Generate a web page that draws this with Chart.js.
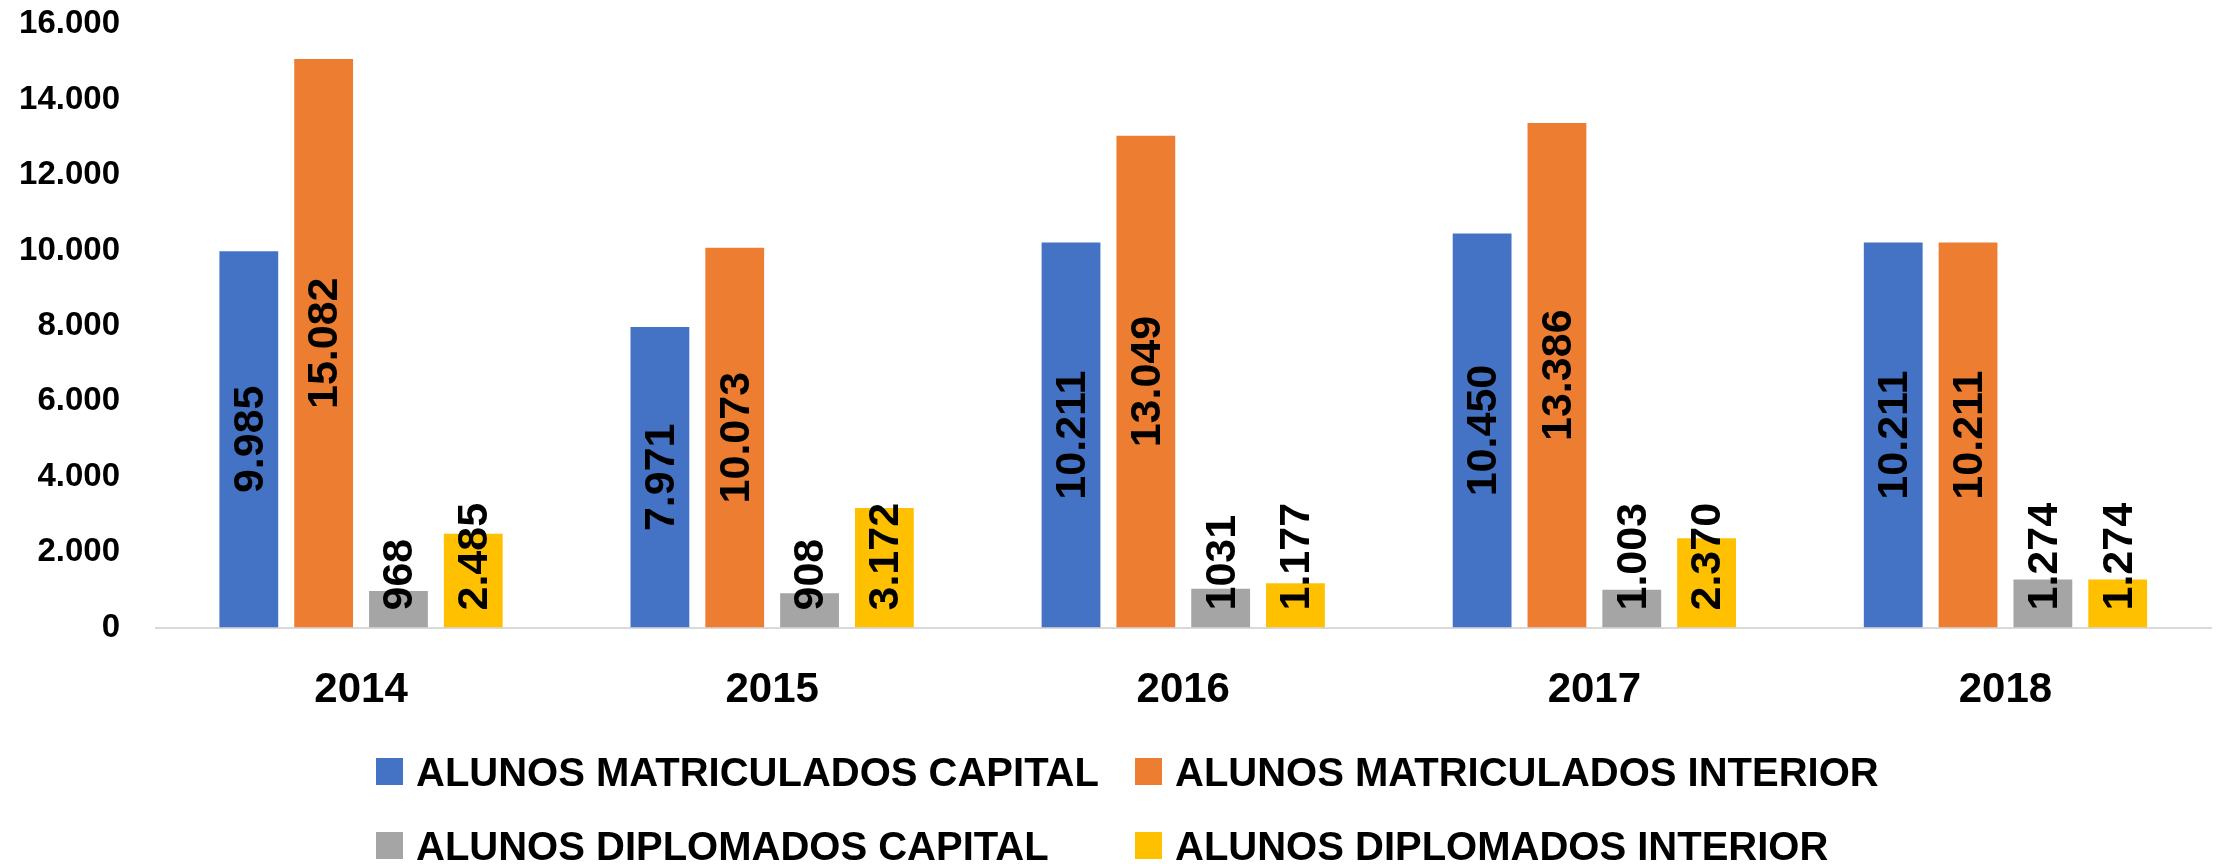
<!DOCTYPE html>
<html>
<head>
<meta charset="utf-8">
<script src="https://cdn.jsdelivr.net/npm/chart.js@4/dist/chart.umd.min.js"></script>
<style>
  html, body { margin: 0; padding: 0; background: #ffffff; }
  #wrap { position: relative; width: 2219px; height: 864px; }
  #legend { position: absolute; left: 0; top: 0; width: 2219px; height: 864px; pointer-events: none;
            font-family: "Liberation Sans", Arial, sans-serif; font-weight: bold; font-size: 40px; color: #000; }
  .item { position: absolute; height: 40px; white-space: nowrap; }
  .box { position: absolute; left: 0; top: 6.5px; width: 27px; height: 27px; }
  .txt { position: absolute; top: 0; line-height: 40px; }
</style>
</head>
<body>
<div id="wrap">
  <canvas id="c" width="2219" height="864"></canvas>
  <div id="legend"></div>
</div>
<script>
// ---- data ----
const categories = ['2014', '2015', '2016', '2017', '2018'];
const seriesNames = [
  'ALUNOS MATRICULADOS CAPITAL',
  'ALUNOS MATRICULADOS INTERIOR',
  'ALUNOS DIPLOMADOS CAPITAL',
  'ALUNOS DIPLOMADOS INTERIOR'
];
const matriculadosCapital  = [9985, 7971, 10211, 10450, 10211];
const matriculadosInterior = [15082, 10073, 13049, 13386, 10211];
const diplomadosCapital    = [968, 908, 1031, 1003, 1274];
const diplomadosInterior   = [2485, 3172, 1177, 2370, 1274];
// label text as printed on the reference (one label lacks the separator)
const diplomadosCapitalText = ['968', '908', '1031', '1.003', '1.274'];
const yTickMax = 16000;
const yTickStep = 2000;

const colors = ['#4472C4', '#ED7D31', '#A5A5A5', '#FFC000'];
const fmt = v => v.toLocaleString('pt-BR');
const fam = '"Liberation Sans", Arial, sans-serif';

const seriesValues = [matriculadosCapital, matriculadosInterior, diplomadosCapital, diplomadosInterior];
const seriesText = [
  matriculadosCapital.map(fmt),
  matriculadosInterior.map(fmt),
  diplomadosCapitalText,
  diplomadosInterior.map(fmt)
];

const datasets = seriesValues.map((vals, i) => ({
  label: seriesNames[i],
  data: vals,
  backgroundColor: colors[i],
  borderWidth: 0,
  categoryPercentage: 0.728,
  barPercentage: 0.786,
  labelText: seriesText[i]
}));

const barLabels = {
  id: 'barLabels',
  afterDatasetsDraw(chart) {
    const ctx = chart.ctx;
    chart.data.datasets.forEach((ds, i) => {
      const meta = chart.getDatasetMeta(i);
      meta.data.forEach((bar, j) => {
        const txt = ds.labelText[j];
        ctx.save();
        ctx.font = 'bold 43px ' + fam;
        const w = ctx.measureText(txt).width;
        const mid = (bar.y + bar.base) / 2;
        const c = Math.min(mid, bar.base - 17 - w / 2);
        ctx.translate(bar.x + 2, c);
        ctx.rotate(-Math.PI / 2);
        ctx.textAlign = 'center';
        ctx.textBaseline = 'middle';
        ctx.fillStyle = '#000000';
        ctx.fillText(txt, 0, 0);
        ctx.restore();
      });
    });
  }
};

const chart = new Chart(document.getElementById('c'), {
  type: 'bar',
  data: { labels: categories, datasets },
  options: {
    responsive: false,
    animation: false,
    devicePixelRatio: 1,
    layout: { padding: { left: 0, right: 8, top: 24.4, bottom: 136.5 } },
    plugins: { legend: { display: false }, tooltip: { enabled: false } },
    scales: {
      x: {
        grid: { display: false, drawTicks: false },
        border: { display: true, color: '#D9D9D9', width: 2 },
        ticks: { color: '#000', font: { family: fam, size: 42, weight: 'bold' }, padding: 38 },
        afterFit: s => { s.height = 100; s.paddingLeft = 0; s.paddingRight = 0; }
      },
      y: {
        min: 0, max: yTickMax,
        grid: { display: false, drawTicks: false },
        border: { display: false },
        ticks: {
          stepSize: yTickStep,
          color: '#000',
          font: { family: fam, size: 33, weight: 'bold' },
          padding: 35.5,
          callback: v => fmt(v)
        },
        afterFit: s => { s.width = 155.5; s.paddingTop = 0; s.paddingBottom = 0; }
      }
    }
  },
  plugins: [barLabels]
});

// HTML legend in a 2x2 grid, built from the chart's datasets
const legendEl = document.getElementById('legend');
const colLeft = [376, 1135];
const rowCenter = [771.7, 845.7];
chart.data.datasets.forEach((ds, i) => {
  const it = document.createElement('div');
  it.className = 'item';
  it.style.left = colLeft[i % 2] + 'px';
  it.style.top = (rowCenter[Math.floor(i / 2)] - 20) + 'px';
  const b = document.createElement('span');
  b.className = 'box';
  b.style.background = ds.backgroundColor;
  const t = document.createElement('span');
  t.className = 'txt';
  t.style.left = '40px';
  t.textContent = ds.label;
  it.appendChild(b); it.appendChild(t);
  legendEl.appendChild(it);
});
</script>
</body>
</html>
